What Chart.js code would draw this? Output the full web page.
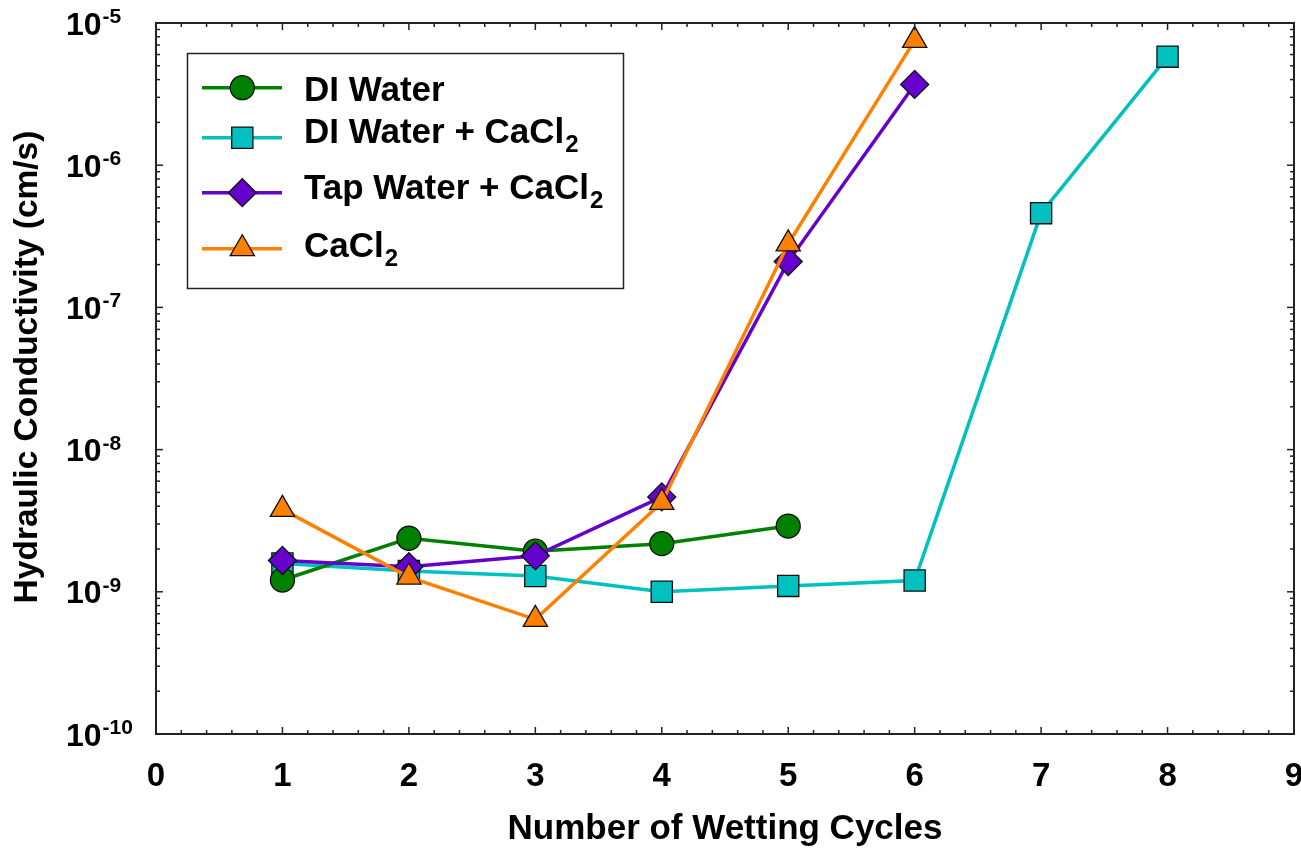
<!DOCTYPE html>
<html>
<head>
<meta charset="utf-8">
<script src="https://cdn.jsdelivr.net/npm/chart.js@4/dist/chart.umd.min.js"></script>
<style>
  html, body { margin: 0; padding: 0; background: #ffffff; }
  #wrap { width: 1301px; height: 852px; }
</style>
</head>
<body>
<div id="wrap"><canvas id="c" width="1301" height="852"></canvas></div>
<script>
// Wetting cycle number for each measurement
const cycles = [1, 2, 3, 4, 5, 6, 7, 8];

// Hydraulic conductivity (cm/s) per cycle, one list per permeant
const diWater        = [1.21e-9, 2.38e-9, 1.93e-9, 2.18e-9, 2.9e-9];
const diWaterCaCl2   = [1.58e-9, 1.40e-9, 1.29e-9, 1.0e-9, 1.1e-9, 1.2e-9, 4.6e-7, 5.8e-6];
const tapWaterCaCl2  = [1.66e-9, 1.50e-9, 1.79e-9, 4.65e-9, 2.1e-7, 3.7e-6];
const cacl2          = [3.8e-9, 1.27e-9, 6.4e-10, 4.25e-9, 2.8e-7, 7.55e-6];

// Axis ticks
const xTickLabels = ['0', '1', '2', '3', '4', '5', '6', '7', '8', '9'];
const yDecadeExponents = [-10, -9, -8, -7, -6, -5];

// Legend text: [main part, subscript]
const seriesNames = [
  ['DI Water', ''],
  ['DI Water + CaCl', '2'],
  ['Tap Water + CaCl', '2'],
  ['CaCl', '2']
];

const toPoints = vals => vals.map((v, i) => ({ x: cycles[i], y: v }));

const FONT = '"Liberation Sans", Arial, Helvetica, sans-serif';

const styles = [
  { color: 'rgb(0,128,0)',   pointStyle: 'circle',   radius: 12,  order: 2 },
  { color: 'rgb(0,192,192)', pointStyle: 'rect',     radius: 15,  order: 3 },
  { color: 'rgb(102,0,204)', pointStyle: 'rectRot',  radius: 14,  order: 1 },
  { color: 'rgb(255,128,0)', pointStyle: 'triangle', radius: 14,  order: 0 }
];
const seriesValues = [diWater, diWaterCaCl2, tapWaterCaCl2, cacl2];

const datasets = seriesValues.map((vals, i) => ({
  label: seriesNames[i].join(''),
  data: toPoints(vals),
  borderColor: styles[i].color,
  backgroundColor: styles[i].color,
  borderWidth: 3.5,
  pointStyle: styles[i].pointStyle,
  pointRadius: styles[i].radius,
  pointHoverRadius: styles[i].radius,
  pointBackgroundColor: styles[i].color,
  pointBorderColor: '#111111',
  pointBorderWidth: 1.3,
  tension: 0,
  fill: false,
  clip: false,
  order: styles[i].order
}));

function drawMarker(ctx, st, x, y) {
  ctx.save();
  ctx.fillStyle = st.color;
  ctx.strokeStyle = '#111111';
  ctx.lineWidth = 1.3;
  Chart.helpers.drawPoint(ctx, { pointStyle: st.pointStyle, radius: st.radius, borderWidth: 1.3, rotation: 0 }, x, y);
  ctx.restore();
}

// Frame, inward ticks, tick labels, axis titles and legend box
const decorations = {
  id: 'decorations',
  afterDraw(chart) {
    const { ctx, chartArea: a, scales } = chart;
    const xs = scales.x, ys = scales.y;
    ctx.save();

    const seg = (x1, y1, x2, y2) => { ctx.beginPath(); ctx.moveTo(x1, y1); ctx.lineTo(x2, y2); ctx.stroke(); };

    // plot frame
    ctx.strokeStyle = '#222222';
    ctx.lineWidth = 2;
    ctx.strokeRect(a.left, a.top, a.right - a.left, a.bottom - a.top);

    // x ticks (major every cycle, minor every 0.2) on bottom and top
    ctx.lineWidth = 1.5;
    for (let k = 0; k <= (xTickLabels.length - 1) * 5; k++) {
      const px = xs.getPixelForValue(k / 5);
      const len = k % 5 === 0 ? 7 : 4;
      seg(px, a.bottom, px, a.bottom - len);
      seg(px, a.top, px, a.top + len);
    }

    // y ticks (major at decades, minor at 2..9) on left and right
    yDecadeExponents.forEach((e, idx) => {
      const mults = idx === yDecadeExponents.length - 1 ? [1] : [1, 2, 3, 4, 5, 6, 7, 8, 9];
      mults.forEach(m => {
        const py = ys.getPixelForValue(m * Math.pow(10, e));
        const len = m === 1 ? 7 : 4;
        seg(a.left, py, a.left + len, py);
        seg(a.right, py, a.right - len, py);
      });
    });

    ctx.fillStyle = '#000000';

    // x tick labels
    ctx.font = 'bold 33px ' + FONT;
    ctx.textAlign = 'center';
    ctx.textBaseline = 'alphabetic';
    xTickLabels.forEach((lab, i) => {
      ctx.fillText(lab, xs.getPixelForValue(i), 786);
    });

    // y tick labels: 10 with superscript exponent
    ctx.textAlign = 'left';
    yDecadeExponents.forEach(e => {
      const py = ys.getPixelForValue(Math.pow(10, e));
      ctx.font = 'bold 32px ' + FONT;
      ctx.fillText('10', 66, py + 11.6);
      const w = ctx.measureText('10').width;
      ctx.font = 'bold 21px ' + FONT;
      ctx.fillText(String(e), 66 + w + 1, py);
    });

    // axis titles
    ctx.font = 'bold 35px ' + FONT;
    ctx.textAlign = 'center';
    ctx.fillText('Number of Wetting Cycles', (a.left + a.right) / 2, 839);
    ctx.save();
    ctx.translate(37, 367);
    ctx.rotate(-Math.PI / 2);
    ctx.font = 'bold 33.5px ' + FONT;
    ctx.fillText('Hydraulic Conductivity (cm/s)', 0, 0);
    ctx.restore();

    // legend
    const box = { left: 187.5, top: 53.5, right: 623.5, bottom: 288.5 };
    ctx.fillStyle = '#ffffff';
    ctx.fillRect(box.left, box.top, box.right - box.left, box.bottom - box.top);
    ctx.strokeStyle = '#222222';
    ctx.lineWidth = 1.5;
    ctx.strokeRect(box.left, box.top, box.right - box.left, box.bottom - box.top);

    const rowY = [87.7, 137.7, 192.7, 248.7];
    const textY = [100.7, 143.3, 199.3, 257.3];
    styles.forEach((st, i) => {
      ctx.strokeStyle = st.color;
      ctx.lineWidth = 3.5;
      seg(202, rowY[i], 282, rowY[i]);
      drawMarker(ctx, st, 242.3, rowY[i]);
      ctx.fillStyle = '#000000';
      ctx.textAlign = 'left';
      ctx.font = 'bold 35px ' + FONT;
      const [main, sub] = seriesNames[i];
      ctx.fillText(main, 304, textY[i]);
      if (sub) {
        const w = ctx.measureText(main).width;
        ctx.font = 'bold 24px ' + FONT;
        ctx.fillText(sub, 304 + w + 1, textY[i] + 9);
      }
    });

    ctx.restore();
  }
};

new Chart(document.getElementById('c'), {
  type: 'line',
  data: { datasets },
  options: {
    responsive: false,
    animation: false,
    devicePixelRatio: 1,
    layout: { autoPadding: false, padding: { left: 156, top: 23, right: 7, bottom: 118 } },
    plugins: { legend: { display: false }, tooltip: { enabled: false } },
    scales: {
      x: { type: 'linear', min: 0, max: 9, display: false },
      y: { type: 'logarithmic', min: 1e-10, max: 1e-5, display: false }
    }
  },
  plugins: [decorations]
});
</script>
</body>
</html>
